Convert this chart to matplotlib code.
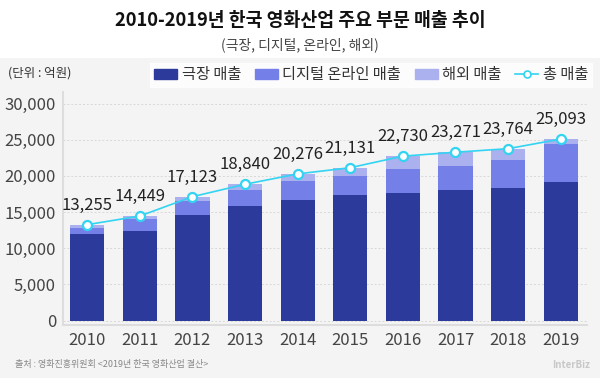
import numpy as np
import matplotlib
matplotlib.use('Agg')
import matplotlib.pyplot as plt
from matplotlib.patches import Rectangle, Patch
from matplotlib.lines import Line2D

plt.rcParams['font.family'] = ['Noto Sans CJK KR', 'DejaVu Sans']

##### data (억원) #####
years = ['2010', '2011', '2012', '2013', '2014', '2015', '2016', '2017', '2018', '2019']
theater = [11900, 12360, 14551, 15900, 16700, 17300, 17700, 18000, 18350, 19180]
digital = [920, 1700, 1950, 2150, 2620, 2700, 3300, 3350, 3850, 5210]
overseas = [435, 389, 622, 790, 956, 1131, 1730, 1921, 1564, 703]
total = [13255, 14449, 17123, 18840, 20276, 21131, 22730, 23271, 23764, 25093]

legend_labels = ['극장 매출', '디지털 온라인 매출', '해외 매출', '총 매출']
yticks = [0, 5000, 10000, 15000, 20000, 25000, 30000]

c_dark = '#2b3a9b'
c_mid = '#7480e8'
c_light = '#aab1ee'
c_line = '#33d3f2'

##### figure #####
fig = plt.figure(figsize=(6, 3.78), dpi=100)
fig.patch.set_facecolor('white')
fig.patches.append(Rectangle((0, 0), 1, 1 - 58/378, transform=fig.transFigure,
                             facecolor='#f4f4f4', edgecolor='none', zorder=-10))

ax = fig.add_axes([63/600, 1 - 325/378, (587 - 63)/600, (325 - 92)/378])
ax.set_facecolor('none')

x = np.arange(len(years))
w = 0.65
bottom2 = np.array(theater)
bottom3 = bottom2 + np.array(digital)
ax.bar(x, theater, w, color=c_dark, zorder=2)
ax.bar(x, digital, w, bottom=bottom2, color=c_mid, zorder=2)
ax.bar(x, overseas, w, bottom=bottom3, color=c_light, zorder=2)
ax.plot(x, total, color=c_line, lw=1.2, marker='o', ms=6.5,
        mfc='white', mec=c_line, mew=1.6, zorder=4)

for xi, v in zip(x, total):
    ax.annotate(f'{v:,}', (xi, v), xytext=(0, 14), textcoords='offset points',
                ha='center', va='center', fontsize=12, color='#222222', zorder=5)

ax.set_xlim(-0.46, 9.5)
ax.set_ylim(-620, 31600)
ax.set_yticks(yticks)
ax.set_yticklabels([f'{t:,}' for t in yticks])
ax.set_xticks(x)
ax.set_xticklabels(years)
ax.tick_params(axis='y', length=0, pad=5, labelsize=12, labelcolor='#444444')
ax.tick_params(axis='x', length=0, pad=5, labelsize=12, labelcolor='#444444')
ax.grid(axis='y', color='#d8d8d8', linestyle=(0, (2, 2)), linewidth=0.7, zorder=0)
for s in ['top', 'right']:
    ax.spines[s].set_visible(False)
for s in ['left', 'bottom']:
    ax.spines[s].set_color('#dddddd')
    ax.spines[s].set_linewidth(1.5)

##### texts #####
fig.text(0.5, 1 - 20/378, '2010-2019년 한국 영화산업 주요 부문 매출 추이',
         ha='center', va='center', fontsize=13.2, fontweight='bold', color='#111111')
fig.text(0.5, 1 - 45/378, '(극장, 디지털, 온라인, 해외)',
         ha='center', va='center', fontsize=10, color='#444444')
fig.text(8/600, 1 - 73/378, '(단위 : 억원)', ha='left', va='center',
         fontsize=9, color='#333333')
fig.text(15/600, 1 - 365/378, '출처 : 영화진흥위원회 <2019년 한국 영화산업 결산>',
         ha='left', va='center', fontsize=6.5, color='#888888')
fig.text(590/600, 1 - 365/378, 'InterBiz', ha='right', va='center',
         fontsize=7, fontweight='bold', color='#c8c8c8')

handles = [Patch(color=c_dark), Patch(color=c_mid), Patch(color=c_light),
           Line2D([], [], color=c_line, lw=1.2, marker='o', ms=5,
                  mfc='white', mec=c_line, mew=1.2)]
leg = fig.legend(handles, legend_labels, ncol=4, loc='center right',
                 bbox_to_anchor=(592/600, 1 - 75/378), fontsize=11,
                 frameon=True, fancybox=False, handlelength=1.5,
                 handleheight=0.55, handletextpad=0.3, columnspacing=0.9,
                 borderpad=0.25, borderaxespad=0)
leg.get_frame().set_facecolor('white')
leg.get_frame().set_edgecolor('white')
for t in leg.get_texts():
    t.set_color('#333333')

fig.savefig('out.png', dpi=100)
